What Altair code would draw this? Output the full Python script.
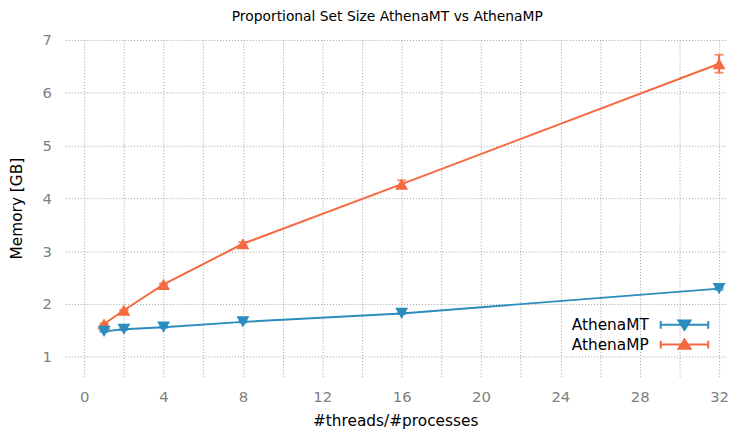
import altair as alt
import pandas as pd

# ---- data ----
threads = [1, 2, 4, 8, 16, 32]
athena_mt = [1.48, 1.52, 1.56, 1.66, 1.82, 2.29]
athena_mt_err = [0.01, 0.01, 0.01, 0.01, 0.01, 0.02]
athena_mp = [1.62, 1.88, 2.37, 3.14, 4.27, 6.55]
athena_mp_err = [0.01, 0.01, 0.02, 0.03, 0.07, 0.17]
series_names = ["AthenaMT", "AthenaMP"]
x_ticks = [0, 2, 4, 6, 8, 10, 12, 14, 16, 18, 20, 22, 24, 26, 28, 30, 32]
y_ticks = [1, 2, 3, 4, 5, 6, 7]

rows = []
for name, vals, errs in [("AthenaMT", athena_mt, athena_mt_err), ("AthenaMP", athena_mp, athena_mp_err)]:
    for t, v, e in zip(threads, vals, errs):
        rows.append({"series": name, "threads": t, "mem": v, "lo": v - e, "hi": v + e})
df = pd.DataFrame(rows)

BLUE = "#2b8cbe"
ORANGE = "#f4693f"
FONT = "DejaVu Sans"

color = alt.Color("series:N", scale=alt.Scale(domain=series_names, range=[BLUE, ORANGE]),
                  legend=alt.Legend(title=None))

xenc = alt.X("threads:Q", scale=alt.Scale(domain=[-0.95, 32.3], nice=False, zero=False),
             axis=alt.Axis(values=x_ticks, title="#threads/#processes",
                           labelExpr="datum.value % 4 == 0 ? datum.label : ''"))
yenc = alt.Y("mem:Q", scale=alt.Scale(domain=[0.63, 7], nice=False, zero=False),
             axis=alt.Axis(values=y_ticks, title="Memory [GB]"))

base = alt.Chart(df)

lines = base.mark_line(strokeWidth=2).encode(x=xenc, y=yenc, color=color, detail="series:N")

errbars = base.mark_errorbar(ticks={"size": 9, "thickness": 2}, thickness=2).encode(
    x=alt.X("threads:Q", title="#threads/#processes"),
    y=alt.Y("lo:Q", title="Memory [GB]"), y2="hi:Q", color=color)

pts_mp = base.transform_filter(alt.datum.series == "AthenaMP").mark_point(
    filled=True, opacity=1, size=170, shape="triangle-up").encode(
    x=alt.X("threads:Q", title="#threads/#processes"), y=alt.Y("mem:Q", title="Memory [GB]"), color=color)
pts_mt = base.transform_filter(alt.datum.series == "AthenaMT").mark_point(
    filled=True, opacity=1, size=170, shape="triangle-down").encode(
    x=alt.X("threads:Q", title="#threads/#processes"), y=alt.Y("mem:Q", title="Memory [GB]"), color=color)

# legend key: error-bar line with caps and a triangle, drawn to the right of the label
L0, L1, C = 11.55, 16.89, 14.22
def key(up):
    s = -1 if up else 1
    return (f"M{L0},0L{L1},0M{L0},-0.44L{L0},0.44M{L1},-0.44L{L1},0.44"
            f"M{C-0.68},{-0.48*s}L{C+0.68},{-0.48*s}L{C},{0.58*s}Z"
            f"M{C-0.42},{-0.33*s}L{C+0.42},{-0.33*s}L{C},{0.3*s}Z"
            f"M{C-0.2},{-0.22*s}L{C+0.2},{-0.22*s}L{C},{0.05*s}Z")

legend_layer = base.mark_point(filled=False, clip=True, strokeWidth=2, opacity=1).encode(
    x=alt.X("threads:Q", title="#threads/#processes"), y=alt.Y("mem:Q", title="Memory [GB]"),
    color=color,
    shape=alt.Shape("series:N", scale=alt.Scale(domain=series_names, range=[key(False), key(True)]),
                    legend=alt.Legend(title=None)),
    size=alt.value(0),
)

chart = alt.layer(lines, errbars, pts_mp, pts_mt, legend_layer).properties(
    width=667, height=340,
    autosize=alt.AutoSizeParams(type="none"),
    padding={"left": 58, "top": 30, "right": 5, "bottom": 51},
    title=alt.TitleParams("Proportional Set Size AthenaMT vs AthenaMP", anchor="middle", frame="group",
                          dx=-8, offset=9, font=FONT, fontSize=14, fontWeight="normal", color="#000000"),
).configure_view(stroke=None).configure_axis(
    domain=False, ticks=False, tickSize=0,
    grid=True, gridColor="#a0a0a0", gridDash=[1, 2], gridWidth=1, gridOpacity=1,
    labelFont=FONT, labelFontSize=15, labelColor="#808080",
    titleFont=FONT, titleFontSize=15.5, titleFontWeight="normal", titleColor="#000000",
).configure_axisX(labelPadding=14, titlePadding=9).configure_axisY(labelPadding=14, titlePadding=18).configure_legend(
    orient="none", legendX=488, legendY=278, labelOffset=4,
    symbolSize=324, symbolStrokeWidth=2, symbolOpacity=1, labelFont=FONT, labelFontSize=15.5, labelColor="#000000",
    rowPadding=-1, padding=0,
)

chart.save("out.html", embed_options={"renderer": "svg", "actions": False})
